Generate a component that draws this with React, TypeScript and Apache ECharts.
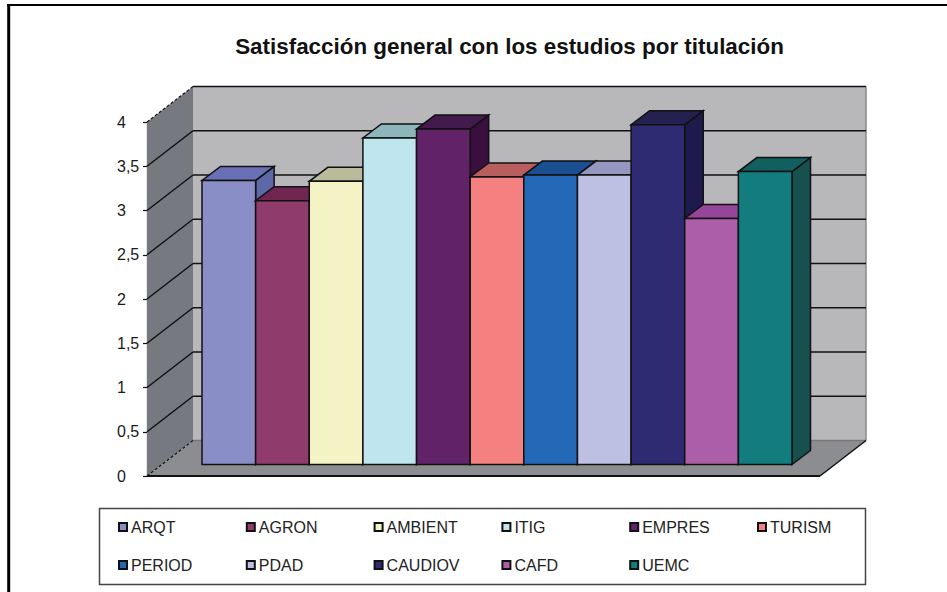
import React, { useEffect, useRef } from "react";
import * as echarts from "echarts";

const titleText = "Satisfacción general con los estudios por titulación";
const categories = ["ARQT", "AGRON", "AMBIENT", "ITIG", "EMPRES", "TURISM", "PERIOD", "PDAD", "CAUDIOV", "CAFD", "UEMC"];
const values = [3.21, 2.98, 3.2, 3.69, 3.79, 3.25, 3.27, 3.27, 3.84, 2.78, 3.31];
const tickValues = [0, 0.5, 1, 1.5, 2, 2.5, 3, 3.5, 4];
const frontColors = ["#898EC6", "#8F3B6B", "#F3F3C6", "#BFE5EE", "#612268", "#F58080", "#2468B8", "#BDC0E2", "#2E2B72", "#AC5FA8", "#127C7E"];
const topColors = ["#6A70B5", "#6F2650", "#B9BB9A", "#8CB6BC", "#431A4D", "#B85E5E", "#1C4F92", "#9697C0", "#24204F", "#95459A", "#115F5F"];
const sideColors = ["#5C68A8", "#5A1E40", "#A0A285", "#7AA0A6", "#3A0F3E", "#9E4F4F", "#164078", "#8284AC", "#1E1A4C", "#7E3A82", "#16504F"];

const WALL_DX = 46;
const WALL_DY = -35.5;
const BAR_DX = 18.5;
const BAR_DY = -14;
const BLACK = "#111";

const poly = (points: number[][], fill: string, stroke = BLACK, lineWidth = 1.5) => ({
  type: "polygon",
  shape: { points },
  style: { fill, stroke, lineWidth, lineJoin: "miter" },
});
const seg = (a: number[], b: number[], stroke = BLACK, lineWidth = 1.5, lineDash?: number[]) => ({
  type: "line",
  shape: { x1: a[0], y1: a[1], x2: b[0], y2: b[1] },
  style: { stroke, lineWidth, lineDash },
});

export default function App() {
  const ref = useRef<HTMLDivElement>(null);
  useEffect(() => {
    const chart = echarts.init(ref.current!, undefined, { renderer: "svg" });

    const barSeries = categories.map((name, i) => ({
      name,
      type: "custom",
      xAxisIndex: 0,
      yAxisIndex: 0,
      coordinateSystem: "cartesian2d",
      itemStyle: { color: frontColors[i], borderColor: BLACK, borderWidth: 1.2 },
      data: [[i, values[i]]],
      renderItem: (_p: any, api: any) => {
        const idx = api.value(0);
        const tl = api.coord([idx, api.value(1)]);
        const br = api.coord([idx + 1, 0]);
        const [x0, y0, x1, y1] = [tl[0], tl[1], br[0], br[1]];
        return {
          type: "group",
          children: [
            poly([[x1, y1], [x1 + BAR_DX, y1 + BAR_DY], [x1 + BAR_DX, y0 + BAR_DY], [x1, y0]], sideColors[i]),
            poly([[x0, y0], [x1, y0], [x1 + BAR_DX, y0 + BAR_DY], [x0 + BAR_DX, y0 + BAR_DY]], topColors[i]),
            poly([[x0, y0], [x1, y0], [x1, y1], [x0, y1]], frontColors[i]),
          ],
        };
      },
    }));

    const wallSeries = {
      type: "custom",
      xAxisIndex: 1,
      yAxisIndex: 1,
      coordinateSystem: "cartesian2d",
      silent: true,
      data: tickValues.map((t) => [0, t]),
      renderItem: (p: any, api: any) => {
        const v = api.value(1);
        const a = api.coord([0, v]);
        const b = [a[0] + WALL_DX, a[1] + WALL_DY];
        const right = api.coord([1, v]);
        const c = [right[0] + WALL_DX, right[1] + WALL_DY];
        const children: any[] = [];
        if (p.dataIndex === 0) {
          const top = api.coord([0, 4]);
          const topRight = api.coord([1, 4]);
          const tb = [top[0] + WALL_DX, top[1] + WALL_DY];
          const tc = [topRight[0] + WALL_DX, topRight[1] + WALL_DY];
          children.push(
            poly([tb, tc, c, b], "#B8B8BA", "none", 0),
            poly([top, tb, b, a], "#76797F", "none", 0),
            poly([a, right, c, b], "#8C8D90", "none", 0),
            seg(tc, c, "#8A8A8C", 1.5),
            seg(b, c, "#777", 1.5),
            seg(a, b, BLACK, 1.2, [3, 2]),
            seg(right, c, BLACK, 1.5),
            seg(a, right, BLACK, 1.8),
          );
        } else if (v === 4) {
          children.push(seg(a, b, BLACK, 1.2, [3, 2]), seg(b, c, BLACK, 1.5));
        } else {
          children.push(seg(a, b), seg(b, c));
        }
        return { type: "group", children };
      },
    };

    chart.setOption({
      animation: false,
      backgroundColor: "#fff",
      title: {
        text: titleText,
        left: 504.5,
        top: 30,
        textAlign: "center",
        textStyle: { fontFamily: "Liberation Sans", fontSize: 22.4, fontWeight: "bold", color: "#111" },
      },
      grid: [
        { left: 202, top: 110.5, width: 590, height: 354 },
        { left: 147, top: 122, width: 673, height: 354 },
      ],
      xAxis: [
        { type: "value", gridIndex: 0, min: 0, max: categories.length, show: false },
        { type: "value", gridIndex: 1, min: 0, max: 1, show: false },
      ],
      yAxis: [
        { type: "value", gridIndex: 0, min: 0, max: 4, show: false },
        {
          type: "value",
          gridIndex: 1,
          min: 0,
          max: 4,
          interval: 0.5,
          splitLine: { show: false },
          axisLine: { show: true, lineStyle: { color: BLACK, width: 1.2 } },
          axisTick: { show: true, length: 4, lineStyle: { color: BLACK, width: 1.2 } },
          axisLabel: {
            margin: 30,
            align: "left",
            fontFamily: "Liberation Sans",
            fontSize: 16,
            color: "#1a1a1a",
            formatter: (v: number) => String(v).replace(".", ","),
          },
        },
      ],
      legend: categories.map((name, i) => ({
        data: [{ name, icon: "rect" }],
        selectedMode: false,
        orient: "horizontal",
        left: 118 + (i % 6) * 127.8,
        top: i < 6 ? 519 : 557,
        itemWidth: 8,
        itemHeight: 8,
        padding: 0,
        textStyle: { fontFamily: "Liberation Sans", fontSize: 16, color: "#222", padding: [0, 0, 0, -1] },
      })),
      graphic: [
        { type: "line", silent: true, shape: { x1: 8.7, y1: 5, x2: 8.7, y2: 592 }, style: { stroke: "#000", lineWidth: 3 } },
        { type: "line", silent: true, shape: { x1: 7, y1: 5, x2: 947, y2: 5 }, style: { stroke: "#000", lineWidth: 2 } },
        { type: "rect", silent: true, shape: { x: 99.5, y: 508.5, width: 766, height: 76 }, style: { fill: "none", stroke: "#444", lineWidth: 1.5 } },
      ],
      series: [wallSeries, ...barSeries],
    });
    return () => chart.dispose();
  }, []);
  return <div ref={ref} style={{ position: "absolute", left: 0, top: 0, width: 947, height: 592 }} />;
}
